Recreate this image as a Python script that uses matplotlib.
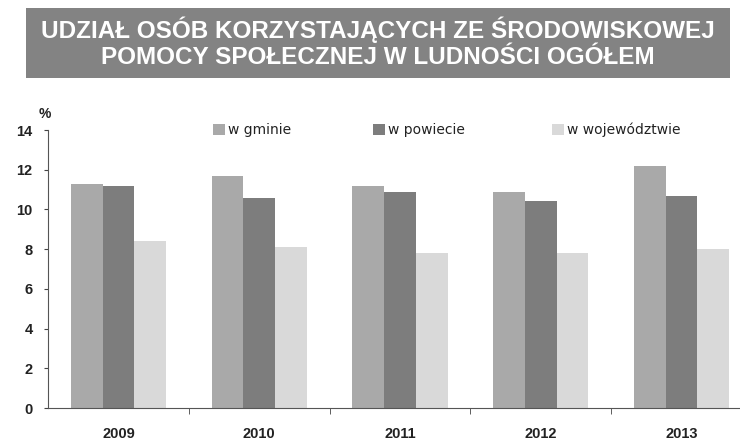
import matplotlib
matplotlib.use("Agg")
import matplotlib.pyplot as plt
import numpy as np
from matplotlib.patches import Rectangle

years = ["2009", "2010", "2011", "2012", "2013"]
series_names = ["w gminie", "w powiecie", "w województwie"]
gmina = [11.3, 11.7, 11.2, 10.9, 12.2]
powiat = [11.2, 10.6, 10.9, 10.4, 10.7]
wojewodztwo = [8.4, 8.1, 7.8, 7.8, 8.0]
yticks = [0, 2, 4, 6, 8, 10, 12, 14]
title_lines = ["UDZIAŁ OSÓB KORZYSTAJĄCYCH ZE ŚRODOWISKOWEJ",
               "POMOCY SPOŁECZNEJ W LUDNOŚCI OGÓŁEM"]

colors = ["#a9a9a9", "#7d7d7d", "#d9d9d9"]
plt.rcParams['font.family'] = ['Liberation Sans', 'DejaVu Sans']

fig = plt.figure(figsize=(7.4, 4.44), dpi=100)

# Title banner
banner = Rectangle((26/740, 1-78/444), 704/740, 70/444, transform=fig.transFigure,
                   facecolor="#838383", edgecolor="none")
fig.patches.append(banner)
fig.text(378/740, 1-29.5/444, title_lines[0], ha="center", va="center", color="white",
         fontsize=17.5, fontweight="bold")
fig.text(378/740, 1-57.5/444, title_lines[1], ha="center", va="center", color="white",
         fontsize=17.5, fontweight="bold")

ax = fig.add_axes([48/740, 1-408/444, 704/740, 278/444])
x = np.arange(len(years))
w = 0.225
data = [gmina, powiat, wojewodztwo]
for i, (vals, c, name) in enumerate(zip(data, colors, series_names)):
    ax.bar(x + (i - 1) * w, vals, width=w, color=c, label=name, edgecolor="none")

ax.set_xlim(-0.5, len(years) - 0.5)
ax.set_ylim(0, 14)
ax.set_yticks(yticks)
ax.set_yticklabels([str(t) for t in yticks], fontsize=10.5, fontweight="bold", color="#222222")
ax.set_xticks(x)
ax.set_xticklabels(years, fontsize=10.5, fontweight="bold", color="#222222")
ax.tick_params(axis="x", length=0, pad=14)
ax.set_xticks(np.arange(len(years)) + 0.5, minor=True)
ax.tick_params(axis="x", which="minor", length=4, direction="out", color="#444444")
ax.tick_params(axis="y", length=3, direction="out", color="#444444", pad=8)
for s in ["top", "right"]:
    ax.spines[s].set_visible(False)
ax.spines["left"].set_color("#555555")
ax.spines["bottom"].set_color("#555555")

fig.text(45/740, 1-114/444, "%", ha="center", va="center", fontsize=10, fontweight="bold", color="#222222")

handles, labels = ax.get_legend_handles_labels()
leg_x = [213, 373, 552]
for h, l, lx, c in zip(handles, labels, leg_x, colors):
    fig.patches.append(Rectangle((lx/740, 1-135/444), 12/740, 11/444, transform=fig.transFigure,
                                 facecolor=c, edgecolor="none"))
    fig.text((lx+15)/740, 1-130/444, l, ha="left", va="center", fontsize=10,
             color="#222222", family=['DejaVu Sans'])

fig.savefig("out.png", dpi=100)
